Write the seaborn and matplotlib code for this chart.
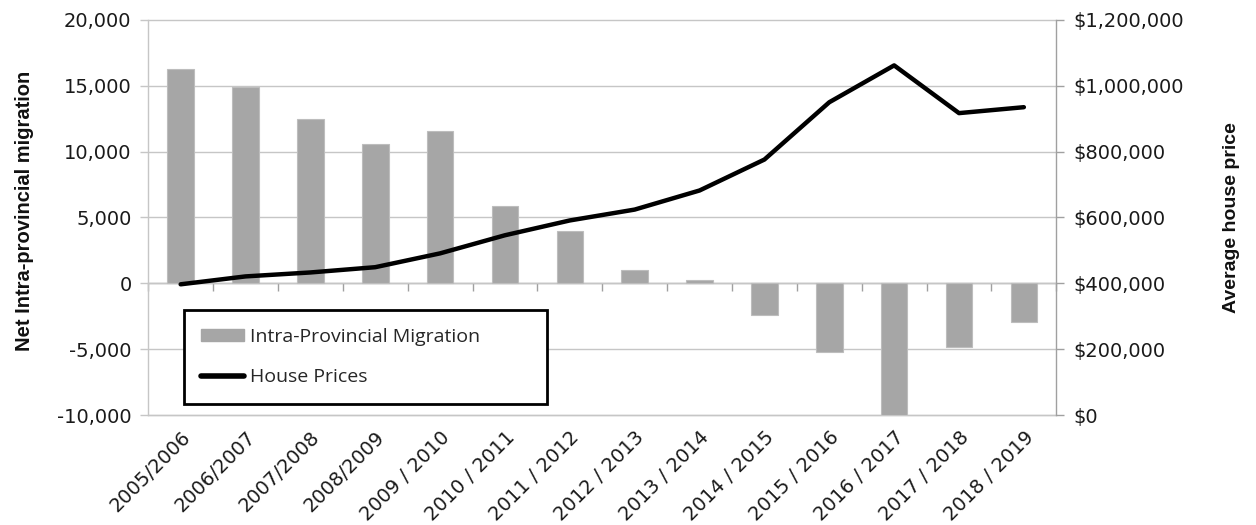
import numpy as np
import pandas as pd
import matplotlib
matplotlib.use("Agg")
import matplotlib.pyplot as plt
import seaborn as sns
from matplotlib.ticker import FuncFormatter, FixedLocator
from matplotlib.patches import Patch
from matplotlib.lines import Line2D

years = ["2005/2006", "2006/2007", "2007/2008", "2008/2009", "2009 / 2010",
         "2010 / 2011", "2011 / 2012", "2012 / 2013", "2013 / 2014", "2014 / 2015",
         "2015 / 2016", "2016 / 2017", "2017 / 2018", "2018 / 2019"]
migration = [16300, 14900, 12500, 10550, 11550, 5850, 4000, 1000, 250,
             -2400, -5250, -10000, -4800, -2950]
house_prices = [397000, 421000, 433000, 449000, 491000, 546000, 591000, 624000,
                682000, 776000, 950000, 1062000, 917000, 935000]
legend_labels = ["Intra-Provincial Migration", "House Prices"]

sns.set_theme(style="white")
plt.rcParams['font.family'] = ['Liberation Sans', 'DejaVu Sans']

df = pd.DataFrame({"year": years, "migration": migration, "price": house_prices})

fig = plt.figure(figsize=(12.56, 5.25), dpi=100)
ax = fig.add_axes([0.118, 0.2095, 0.723, 0.7525])

grid_c = "#c6c6c6"
axis_c = "#a0a0a0"
bar_c = "#a6a6a6"
tick_font = {"family": ["DejaVu Sans"], "size": 14}

sns.barplot(data=df, x="year", y="migration", color=bar_c, width=0.41,
            edgecolor="#bdbdbd", linewidth=0.8, saturation=1, ax=ax, zorder=3)
ax.set_ylim(-10000, 20000)
ax.set_xlim(-0.5, len(years) - 0.5)
ax.set_yticks(np.arange(-10000, 20001, 5000))
ax.yaxis.set_major_formatter(FuncFormatter(lambda v, p: f"{int(v):,}"))
ax.grid(axis="y", color=grid_c, linewidth=1.0, zorder=0, clip_on=False)
ax.set_axisbelow(True)
for s in ["top", "right"]:
    ax.spines[s].set_visible(False)
ax.spines["bottom"].set_color(grid_c)
ax.spines["bottom"].set_linewidth(1.0)
ax.spines["left"].set_color(grid_c)
ax.spines["left"].set_linewidth(1.0)
ax.tick_params(axis="y", which="major", left=True, length=6, width=1, color=grid_c,
               labelcolor="#1a1a1a", pad=6)
ax.tick_params(axis="x", which="major", bottom=False, labelcolor="#1a1a1a", pad=3)
for lbl in ax.get_yticklabels():
    lbl.set_fontproperties(tick_font)
for lbl in ax.get_xticklabels():
    lbl.set_fontproperties(tick_font)
    lbl.set_rotation(45)
    lbl.set_ha("right")
    lbl.set_rotation_mode("anchor")
ax.set_xlabel("")
ax.set_ylabel("Net Intra-provincial migration", fontsize=14.5, fontweight="bold",
              color="#111111")
ax.yaxis.set_label_coords(-0.126, 0.516)

# category axis crossing at zero
zero_frac = (0 - (-10000)) / 30000
sec = ax.secondary_xaxis(zero_frac)
sec.xaxis.set_major_locator(FixedLocator(np.arange(-0.5, len(years), 1.0)))
sec.tick_params(axis="x", direction="out", length=6, width=1, color=axis_c,
                labelbottom=False, labeltop=False, bottom=True, top=False)
sec.spines["bottom"].set_color(axis_c)
sec.spines["bottom"].set_linewidth(1.0)
for s in ["top", "left", "right"]:
    sec.spines[s].set_visible(False)

ax2 = ax.twinx()
sns.lineplot(data=df, x="year", y="price", color="black", linewidth=3.2,
             ax=ax2, zorder=5, solid_capstyle="round", solid_joinstyle="round")
ax2.set_ylim(0, 1200000)
ax2.set_xlim(-0.5, len(years) - 0.5)
ax2.set_yticks(np.arange(0, 1200001, 200000))
ax2.yaxis.set_major_formatter(FuncFormatter(lambda v, p: f"${int(v):,}"))
for s in ["top", "bottom", "left"]:
    ax2.spines[s].set_visible(False)
ax2.spines["right"].set_color(axis_c)
ax2.spines["right"].set_linewidth(1.0)
ax2.tick_params(axis="y", right=True, length=6, width=1, color=axis_c,
                labelcolor="#1a1a1a", pad=6)
for lbl in ax2.get_yticklabels():
    lbl.set_fontproperties(tick_font)
ax2.grid(False)
ax2.set_ylabel("Average house price", fontsize=14, fontweight="bold", color="#111111")
ax2.yaxis.set_label_coords(1.184, 0.50)
ax2.set_xlabel("")

# legend
handles = [Patch(facecolor=bar_c, edgecolor=bar_c),
           Line2D([0], [0], color="black", linewidth=4, solid_capstyle="round")]
leg = ax2.legend(handles, legend_labels, loc="upper left",
                 bbox_to_anchor=(0.039, 0.025, 0.4, 0.24), mode="expand",
                 prop={"family": "Open Sans", "size": 14}, frameon=True, fancybox=False,
                 framealpha=1, edgecolor="black", handlelength=2.2, handleheight=0.6,
                 handletextpad=0.3, labelspacing=1.15, borderpad=0.9,
                 borderaxespad=0)
leg.get_frame().set_linewidth(2)
leg.set_zorder(10)

fig.savefig("out.png", dpi=100)
